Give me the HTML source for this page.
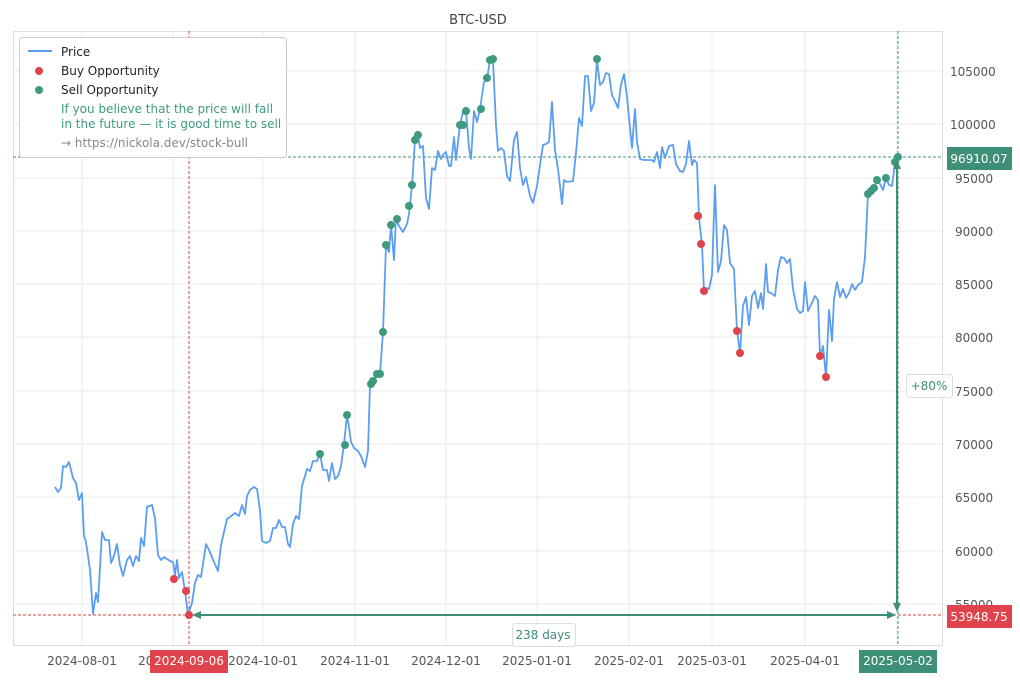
<!DOCTYPE html>
<html><head><meta charset="utf-8"><style>
body{margin:0;background:#fff;}
svg{display:block;font-family:"DejaVu Sans","Liberation Sans",sans-serif;}
</style></head><body>
<svg width="1020" height="680" viewBox="0 0 1020 680">
<rect width="1020" height="680" fill="#fff"/>
<text x="478" y="24" font-size="13" fill="#444" text-anchor="middle">BTC-USD</text>
<g stroke="#ebebeb" stroke-width="1">
<line x1="82" y1="31" x2="82" y2="646"/><line x1="173" y1="31" x2="173" y2="646"/><line x1="263" y1="31" x2="263" y2="646"/><line x1="355" y1="31" x2="355" y2="646"/><line x1="446" y1="31" x2="446" y2="646"/><line x1="537" y1="31" x2="537" y2="646"/><line x1="629" y1="31" x2="629" y2="646"/><line x1="712" y1="31" x2="712" y2="646"/><line x1="805" y1="31" x2="805" y2="646"/><line x1="897" y1="31" x2="897" y2="646"/>
<line x1="13" y1="604" x2="943" y2="604"/><line x1="13" y1="551" x2="943" y2="551"/><line x1="13" y1="497" x2="943" y2="497"/><line x1="13" y1="444" x2="943" y2="444"/><line x1="13" y1="391" x2="943" y2="391"/><line x1="13" y1="337" x2="943" y2="337"/><line x1="13" y1="284" x2="943" y2="284"/><line x1="13" y1="231" x2="943" y2="231"/><line x1="13" y1="178" x2="943" y2="178"/><line x1="13" y1="124" x2="943" y2="124"/><line x1="13" y1="71" x2="943" y2="71"/>
</g>
<rect x="13.5" y="31.5" width="929" height="614" fill="none" stroke="#ddd"/>
<g font-size="12" fill="#555">
<text x="950" y="76">105000</text><text x="950" y="129">100000</text><text x="955" y="183">95000</text><text x="955" y="236">90000</text><text x="955" y="289">85000</text><text x="955" y="342">80000</text><text x="955" y="396">75000</text><text x="955" y="449">70000</text><text x="955" y="502">65000</text><text x="955" y="556">60000</text><text x="955" y="609">55000</text>
</g>
<g font-size="12" fill="#555" text-anchor="middle">
<text x="82" y="665">2024-08-01</text><text x="173" y="665">2024-09-01</text><text x="263" y="665">2024-10-01</text><text x="355" y="665">2024-11-01</text><text x="446" y="665">2024-12-01</text><text x="537" y="665">2025-01-01</text><text x="629" y="665">2025-02-01</text><text x="712" y="665">2025-03-01</text><text x="805" y="665">2025-04-01</text>
</g>
<line x1="13" y1="157" x2="943" y2="157" stroke="#3d8f78" stroke-dasharray="3,2"/>
<line x1="13" y1="615" x2="943" y2="615" stroke="#d9434b" stroke-dasharray="3,2"/>
<line x1="189" y1="31" x2="189" y2="646" stroke="#d9434b" stroke-dasharray="3,2"/>
<line x1="898" y1="31" x2="898" y2="646" stroke="#3d8f78" stroke-dasharray="3,2"/>
<polyline fill="none" stroke="#5b9ef0" stroke-width="1.8" stroke-linejoin="round" points="55,487 58,492 61,488 63,466 66,467 69,462 73,478 76,483 79,500 82,493 84,536 86,542 90,570 93,614 96,593 98,602 102,532 105,540 109,540 111,563 114,556 117,544 120,565 123,576 127,560 130,556 133,566 136,556 139,561 141,538 144,546 147,507 152,505 155,518 158,555 161,560 164,557 170,561 173,562 175,575 177,560 179,578 182,572 185,591 188,615 192,603 195,583 198,575 201,577 206,544 209,550 214,562 218,571 221,545 227,519 230,517 235,513 239,516 242,505 245,514 247,496 250,490 254,487 257,489 260,510 262,541 266,543 270,541 273,528 276,528 279,520 282,527 285,527 288,544 290,547 293,524 296,516 299,519 302,486 307,469 310,471 313,461 317,461 320,454 323,470 327,470 329,481 332,463 335,479 338,476 341,466 344,444 347,415 349,427 351,442 354,448 358,451 361,456 365,467 368,451 370,384 373,381 377,374 380,374 383,332 386,245 389,252 391,225 394,260 396,219 399,226 403,232 407,224 409,214 412,185 415,140 418,135 420,148 423,146 426,198 429,209 432,168 435,170 438,151 441,159 443,155 446,152 449,166 451,166 454,137 456,160 460,125 463,112 466,111 469,148 471,159 474,111 477,122 480,109 484,82 487,79 490,60 493,60 496,125 498,151 501,148 504,151 507,176 510,181 514,140 517,132 520,168 523,185 526,177 530,196 533,203 537,186 540,165 543,145 546,144 549,142 552,102 555,150 558,169 562,204 564,180 567,182 573,181 576,153 579,118 582,126 585,76 588,76 591,111 594,103 597,60 600,85 603,82 606,73 609,74 612,95 615,101 618,108 621,85 624,74 627,97 629,118 632,148 635,109 637,142 640,159 644,160 648,160 652,160 654,162 657,152 660,168 662,147 665,158 669,146 673,145 676,164 680,171 683,172 686,164 689,141 692,165 694,160 697,163 699,218 702,245 704,291 706,288 709,289 712,275 715,185 718,272 721,261 724,225 727,230 730,263 734,269 737,331 740,353 743,306 746,297 749,325 752,296 755,291 758,308 761,293 763,309 766,264 768,292 771,293 775,296 778,270 781,257 784,258 787,263 790,259 793,289 797,309 800,313 803,311 805,282 808,311 811,305 815,296 818,300 820,356 823,346 826,377 829,310 832,341 834,299 837,282 840,297 843,289 846,298 849,293 852,284 855,290 858,285 862,282 865,257 868,194 871,190 874,188 877,180 880,184 883,190 886,178 889,185 892,186 895,163 898,158"/>
<g fill="#3d9a7e">
<circle cx="320" cy="454" r="4"/><circle cx="345" cy="445" r="4"/><circle cx="347" cy="415" r="4"/><circle cx="371" cy="384" r="4"/><circle cx="373" cy="381" r="4"/><circle cx="377" cy="374" r="4"/><circle cx="380" cy="374" r="4"/><circle cx="383" cy="332" r="4"/><circle cx="386" cy="245" r="4"/><circle cx="391" cy="225" r="4"/><circle cx="397" cy="219" r="4"/><circle cx="409" cy="206" r="4"/><circle cx="412" cy="185" r="4"/><circle cx="415" cy="140" r="4"/><circle cx="418" cy="135" r="4"/><circle cx="460" cy="125" r="4"/><circle cx="463" cy="125" r="4"/><circle cx="466" cy="111" r="4"/><circle cx="481" cy="109" r="4"/><circle cx="487" cy="78" r="4"/><circle cx="490" cy="60" r="4"/><circle cx="493" cy="59" r="4"/><circle cx="597" cy="59" r="4"/><circle cx="868" cy="194" r="4"/><circle cx="871" cy="191" r="4"/><circle cx="874" cy="188" r="4"/><circle cx="877" cy="180" r="4"/><circle cx="886" cy="178" r="4"/><circle cx="895" cy="162" r="4"/><circle cx="898" cy="157" r="4"/>
</g>
<g fill="#e0434b">
<circle cx="174" cy="579" r="4"/><circle cx="186" cy="591" r="4"/><circle cx="189" cy="615" r="4"/><circle cx="698" cy="216" r="4"/><circle cx="701" cy="244" r="4"/><circle cx="704" cy="291" r="4"/><circle cx="737" cy="331" r="4"/><circle cx="740" cy="353" r="4"/><circle cx="820" cy="356" r="4"/><circle cx="826" cy="377" r="4"/>
</g>
<g stroke="#3d8f78" stroke-width="2" fill="#3d8f78">
<line x1="198" y1="615" x2="890" y2="615"/>
<path d="M192,615 L201,611 L201,619 Z" stroke="none"/>
<path d="M896,615 L887,611 L887,619 Z" stroke="none"/>
<line x1="897" y1="168" x2="897" y2="605"/>
<path d="M897,612 L893,603 L901,603 Z" stroke="none"/>
<path d="M897,160 L893,169 L901,169 Z" stroke="none"/>
</g>
<rect x="906.5" y="374.5" width="46" height="23" rx="3" fill="#fff" stroke="#ddd"/>
<text x="929" y="390" font-size="12" fill="#3d8f78" text-anchor="middle">+80%</text>
<rect x="512.5" y="623.5" width="63" height="23" rx="3" fill="#fff" stroke="#ddd"/>
<text x="543" y="639" font-size="12" fill="#3d8f78" text-anchor="middle">238 days</text>
<rect x="947" y="147" width="65" height="23" fill="#3d8f78"/>
<text x="979" y="163" font-size="12" fill="#fff" text-anchor="middle">96910.07</text>
<rect x="947" y="605" width="65" height="23" fill="#e0434b"/>
<text x="979" y="621" font-size="12" fill="#fff" text-anchor="middle">53948.75</text>
<rect x="150" y="650" width="78" height="23" fill="#e0434b"/>
<text x="189" y="665" font-size="12" fill="#fff" text-anchor="middle">2024-09-06</text>
<rect x="859" y="650" width="78" height="23" fill="#3d8f78"/>
<text x="898" y="665" font-size="12" fill="#fff" text-anchor="middle">2025-05-02</text>
<rect x="19.5" y="37.5" width="267" height="120" rx="3" fill="#fff" stroke="#ccc"/>
<line x1="28" y1="51" x2="52" y2="51" stroke="#5b9ef0" stroke-width="2"/>
<circle cx="39" cy="71" r="4" fill="#e0434b"/>
<circle cx="39" cy="90" r="4" fill="#3d9a7e"/>
<g font-size="12">
<text x="61" y="56" fill="#222">Price</text>
<text x="61" y="75" fill="#222">Buy Opportunity</text>
<text x="61" y="94" fill="#222">Sell Opportunity</text>
<text x="61" y="113" fill="#3d9a7e">If you believe that the price will fall</text>
<text x="61" y="128" fill="#3d9a7e">in the future — it is good time to sell</text>
<text x="61" y="147" fill="#888">→ https://nickola.dev/stock-bull</text>
</g>
</svg>
</body></html>
